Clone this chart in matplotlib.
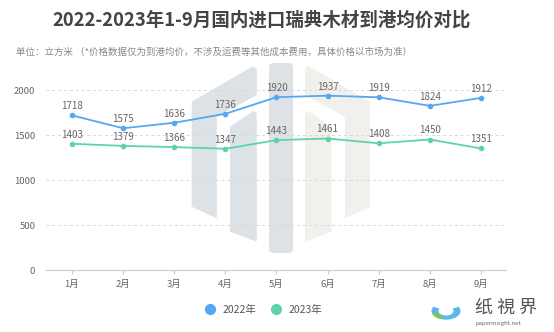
import matplotlib
matplotlib.use("Agg")
import matplotlib.pyplot as plt
from matplotlib.patches import Polygon, FancyBboxPatch, Wedge
import numpy as np

plt.rcParams['font.family'] = ['Noto Sans CJK SC', 'DejaVu Sans']

months = ['1月', '2月', '3月', '4月', '5月', '6月', '7月', '8月', '9月']
price_2022 = [1718, 1575, 1636, 1736, 1920, 1937, 1919, 1824, 1912]
price_2023 = [1403, 1379, 1366, 1347, 1443, 1461, 1408, 1450, 1351]
yticks = [0, 500, 1000, 1500, 2000]

c22 = '#55a7f2'
c23 = '#5dd4a8'
txt = '#666666'

W, H = 554, 332
fig = plt.figure(figsize=(W / 100, H / 100), dpi=100)


def px(pts):
    # pixel coords (top-left origin) -> figure fraction
    return [(x / W, 1 - y / H) for x, y in pts]


# background watermark
gray, beige = '#dce2e5', '#f1f0ec'
left_outer = [(191.7, 101.7), (253.3, 66), (256.7, 69.3), (256.7, 95),
              (216.7, 116.7), (216.7, 218.3), (191.7, 206.7)]
left_inner = [(230, 126.7), (254, 110.7), (256.7, 113.3), (256.7, 241.7), (230, 231.7)]
mid = 280.8
for shape in (left_outer, left_inner):
    fig.add_artist(Polygon(px(shape), closed=True, transform=fig.transFigure,
                           fc=gray, ec='none', zorder=-2))
    mirrored = [(2 * mid - x, y) for x, y in shape]
    fig.add_artist(Polygon(px(mirrored), closed=True, transform=fig.transFigure,
                           fc=beige, ec='none', zorder=-2))
fig.add_artist(FancyBboxPatch((269 / W, 1 - 253 / H), 24 / W, 190 / H,
                              boxstyle='round,pad=0,rounding_size=0.008',
                              transform=fig.transFigure, fc=gray, ec='none',
                              zorder=-2, mutation_aspect=W / H))

ax = fig.add_axes([0.0839, 0.1867, 0.8303, 0.5422])

x = np.arange(len(months))
ax.plot(x, price_2022, color=c22, lw=1.3, marker='o', ms=3, zorder=3)
ax.plot(x, price_2023, color=c23, lw=1.3, marker='o', ms=3, zorder=3)
for xi, v in zip(x, price_2022):
    ax.annotate(str(v), (xi, v), xytext=(0, 3), textcoords='offset points',
                ha='center', va='bottom', fontsize=7, color=txt)
for xi, v in zip(x, price_2023):
    ax.annotate(str(v), (xi, v), xytext=(0, 3), textcoords='offset points',
                ha='center', va='bottom', fontsize=7, color=txt)

ax.set_xlim(-0.5, len(months) - 0.5)
ax.set_ylim(0, 2000)
ax.set_yticks(yticks)
ax.set_xticks(x)
ax.set_xticklabels(months)
ax.tick_params(axis='y', length=0, labelsize=6.8, labelcolor=txt, pad=8)
ax.tick_params(axis='x', length=3, color='#cccccc', labelsize=6.8, labelcolor=txt, pad=4)
ax.grid(axis='y', ls=(0, (3, 3)), color='#d8d8d8', lw=0.7)
for s in ['top', 'right', 'left']:
    ax.spines[s].set_visible(False)
ax.spines['bottom'].set_color('#cccccc')
ax.set_facecolor('none')

fig.text(0.473, 0.94, '2022-2023年1-9月国内进口瑞典木材到港均价对比',
         ha='center', va='center', fontsize=13.3, fontweight='bold', color='#444444')
fig.text(0.029, 0.843, '单位：立方米 （*价格数据仅为到港均价，不涉及运费等其他成本费用，具体价格以市场为准）',
         ha='left', va='center', fontsize=6.8, color='#888888')

# legend
ax.plot([], [], ls='none', marker='o', ms=7, color=c22, label='2022年')
ax.plot([], [], ls='none', marker='o', ms=7, color=c23, label='2023年')
fig.legend(loc='center', bbox_to_anchor=(0.471, 0.066), ncol=2, frameon=False,
           fontsize=7.5, labelcolor='#555555', handletextpad=0.2, columnspacing=0.9)

# logo bottom right
fig.add_artist(Wedge((446 / W, 1 - 311 / H), 14.5 / W, 150, 390, width=7 / W,
                     transform=fig.transFigure, fc='#5bb9e3', ec='none'))
fig.add_artist(Wedge((446 / W, 1 - 311 / H), 14.5 / W, 200, 250, width=5 / W,
                     transform=fig.transFigure, fc='#8cc63f', ec='none'))
fig.text(0.913, 0.072, '纸 視 界', ha='center', va='center', fontsize=13, color='#555555')
fig.text(0.9, 0.027, 'paperinsight.net', ha='center', va='center', fontsize=4.3, color='#666666')

fig.savefig('out.png', dpi=100)
